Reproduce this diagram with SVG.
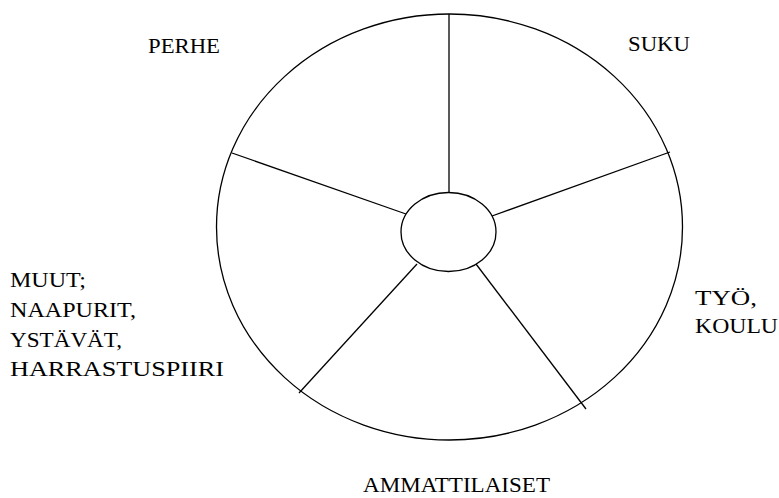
<svg xmlns="http://www.w3.org/2000/svg" width="779" height="498" viewBox="0 0 779 498">
<style>
.l{stroke:#000;stroke-width:1.3;fill:none}
text{font-family:"Liberation Serif","Times New Roman",serif;font-size:21px;fill:#000}
</style>
<rect width="779" height="498" fill="#fff"/>
<g id="outer"><ellipse class="l" cx="449.5" cy="227" rx="233" ry="213"/></g>
<g id="center"><ellipse class="l" cx="448.5" cy="232" rx="47.5" ry="39.5"/></g>
<g id="connectors">
<line class="l" x1="449" y1="14" x2="449" y2="193"/>
<line class="l" x1="492" y1="216" x2="670" y2="152"/>
<line class="l" x1="232" y1="153" x2="406" y2="214"/>
<line class="l" x1="299" y1="393" x2="417" y2="264"/>
<line class="l" x1="586" y1="409" x2="476" y2="264"/>
</g>
<g id="perhe"><text x="148" y="53" textLength="72" lengthAdjust="spacingAndGlyphs">PERHE</text></g>
<g id="suku"><text x="628" y="51" textLength="62" lengthAdjust="spacingAndGlyphs">SUKU</text></g>
<g id="muut">
<text x="10" y="287" textLength="76" lengthAdjust="spacingAndGlyphs">MUUT;</text>
<text x="10" y="317" textLength="126" lengthAdjust="spacingAndGlyphs">NAAPURIT,</text>
<text x="10" y="347" textLength="112" lengthAdjust="spacingAndGlyphs">YSTÄVÄT,</text>
<text x="10" y="376" textLength="214" lengthAdjust="spacingAndGlyphs">HARRASTUSPIIRI</text>
</g>
<g id="tyo">
<text x="695" y="305" textLength="62" lengthAdjust="spacingAndGlyphs">TYÖ,</text>
<text x="695" y="333" textLength="83" lengthAdjust="spacingAndGlyphs">KOULU</text>
</g>
<g id="ammattilaiset"><text x="363" y="492" textLength="187" lengthAdjust="spacingAndGlyphs">AMMATTILAISET</text></g>
</svg>
